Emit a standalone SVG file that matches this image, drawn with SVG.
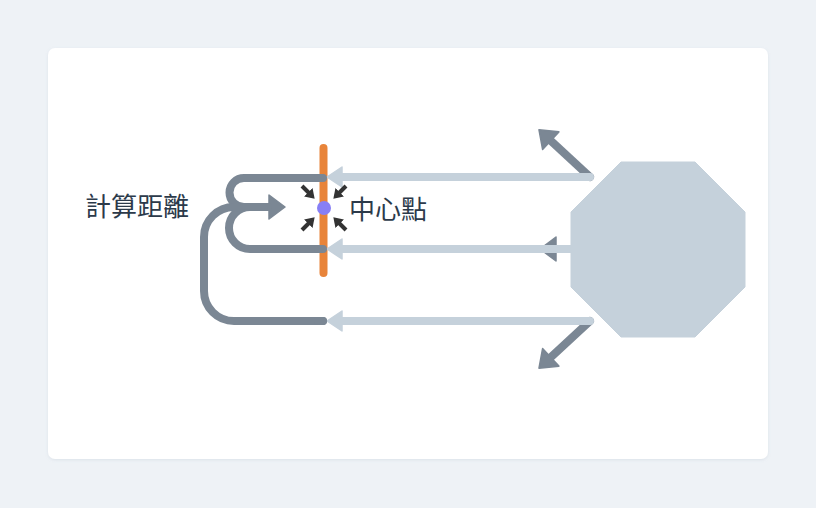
<svg xmlns="http://www.w3.org/2000/svg" width="816" height="508" viewBox="0 0 816 508">
  <style>
    .dark { fill: none; stroke: #7b8794; stroke-width: 8; stroke-linecap: round; stroke-linejoin: round; }
    .light { fill: none; stroke: #c5d1db; stroke-width: 8; stroke-linecap: round; }
    .small { fill: none; stroke: #333333; stroke-width: 4; }
    .label { font-family: "Noto Sans CJK TC", "Noto Sans CJK SC", sans-serif; font-size: 26px; fill: #2c3a4a; }
  </style>
  <defs>
    <filter id="shadow" x="-5%" y="-5%" width="110%" height="110%">
      <feDropShadow dx="0" dy="1" stdDeviation="1.5" flood-color="#8899aa" flood-opacity="0.18"/>
    </filter>
    <marker id="darkHead" viewBox="-1 -13 18 26" refX="1" refY="0" markerWidth="18" markerHeight="26" markerUnits="userSpaceOnUse" orient="auto">
      <path d="M0,-12 L16,0 L0,12 Z" fill="#7b8794" stroke="#7b8794" stroke-width="1.5" stroke-linejoin="round"/>
    </marker>
    <marker id="lightHead" viewBox="-1 -11 18 22" refX="1" refY="0" markerWidth="18" markerHeight="22" markerUnits="userSpaceOnUse" orient="auto">
      <path d="M0,-10 L15,0 L0,10 Z" fill="#c5d1db" stroke="#c5d1db" stroke-width="1.5" stroke-linejoin="round"/>
    </marker>
    <marker id="smallHead" viewBox="0 -6 10 12" refX="1" refY="0" markerWidth="10" markerHeight="12" markerUnits="userSpaceOnUse" orient="auto">
      <path d="M0,-6 L9,0 L0,6 Z" fill="#333333"/>
    </marker>
  </defs>

  <rect x="0" y="0" width="816" height="508" fill="#eef2f6"/>
  <rect x="48" y="48" width="720" height="411" rx="7" fill="#ffffff" filter="url(#shadow)"/>

  <g id="connectors">
    <line class="dark" x1="590" y1="177" x2="550" y2="140" marker-end="url(#darkHead)"/>
    <line class="dark" x1="590" y1="321" x2="550" y2="358" marker-end="url(#darkHead)"/>
    <line class="dark" x1="590" y1="249" x2="555" y2="249" marker-end="url(#darkHead)"/>
    <path class="dark" d="M323,178 H244 A14.5,14.5 0 0 0 244,207 H270" marker-end="url(#darkHead)"/>
    <path class="dark" d="M323,249 H250 A21,21 0 0 1 250,207"/>
    <path class="dark" d="M323,321 H234 A30,30 0 0 1 204,291 V237 A30,30 0 0 1 234,207 H268"/>
  </g>

  <g id="centerBar">
    <line x1="323.5" y1="148" x2="323.5" y2="273" stroke="#e8843a" stroke-width="8" stroke-linecap="round"/>
  </g>

  <g id="lightConnectors">
    <line class="light" x1="590" y1="177" x2="341" y2="177" marker-end="url(#lightHead)"/>
    <line class="light" x1="590" y1="249" x2="341" y2="249" marker-end="url(#lightHead)"/>
    <line class="light" x1="590" y1="321" x2="341" y2="321" marker-end="url(#lightHead)"/>
    <path class="dark" d="M323,178 H318 M323,249 H318 M323,321 H318"/>
  </g>

  <g id="centerPoint">
    <circle cx="324" cy="208" r="7" fill="#877ff5"/>
    <line class="small" x1="302" y1="186" x2="309" y2="193" marker-end="url(#smallHead)"/>
    <line class="small" x1="346" y1="186" x2="339" y2="193" marker-end="url(#smallHead)"/>
    <line class="small" x1="302" y1="230" x2="309" y2="223" marker-end="url(#smallHead)"/>
    <line class="small" x1="346" y1="230" x2="339" y2="223" marker-end="url(#smallHead)"/>
    <text class="label" x="349" y="219">中心點</text>
  </g>

  <g id="distance">
    <text class="label" x="85" y="216">計算距離</text>
  </g>

  <g id="octagon">
    <polygon points="621,162 695,162 745,212 745,287 695,337 621,337 571,287 571,212" fill="#c5d1db" stroke="#c5d1db" stroke-width="1" stroke-linejoin="round"/>
  </g>
</svg>
